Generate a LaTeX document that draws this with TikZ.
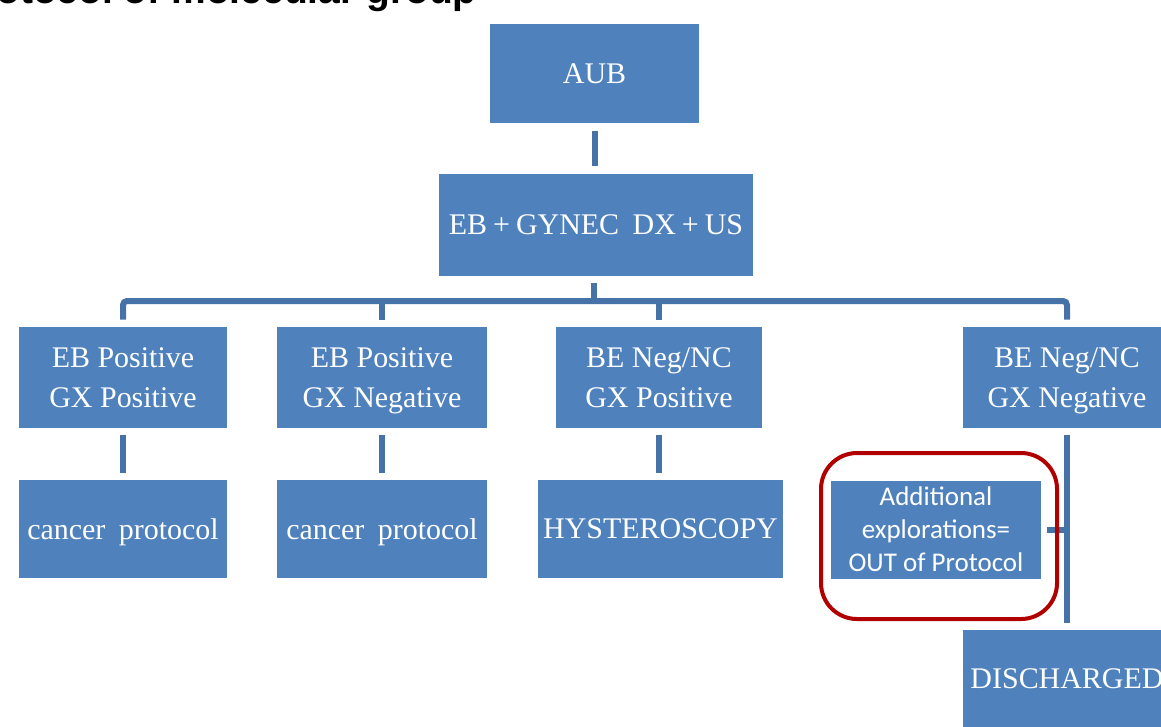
\documentclass[tikz,border=0pt]{standalone}
\usepackage{fontspec}
\setmainfont{Liberation Serif}
\newfontfamily\calibrifont{Carlito}
\newfontfamily\headfont{Liberation Sans}
\usetikzlibrary{positioning}
\definecolor{boxblue}{RGB}{79,129,189}
\definecolor{linkblue}{RGB}{69,114,167}
\definecolor{ringred}{RGB}{176,0,0}
\tikzset{
    block/.style={
        fill=boxblue,
        text=white,
        inner sep=0pt,
        align=center,
        text depth=0pt,
        minimum width=5.2cm,
        minimum height=2.525cm,
        font=\fontsize{21.3}{28.9}\selectfont
    },
    link/.style={
        draw=linkblue,
        line width=0.15cm
    },
    ring/.style={
        draw=ringred,
        line width=0.1cm,
        rounded corners=0.9cm
    }
}

\begin{document}
\begin{tikzpicture}[x=0.025cm, y=-0.025cm]
    \useasboundingbox (0, 0) rectangle (1161, 726);
    \clip (0, 0) rectangle (1161, 726);
    % Title:
    \node [anchor=base east, inner sep=0pt, font=\headfont\bfseries\fontsize{27.7}{30}\selectfont] (title) at (477, 3) {otocol of molecular group};
    % Top:
    \node [block, minimum width=5.225cm, minimum height=2.475cm] (aub) at (594.5, 73.5) {AUB};
    \node [block, minimum width=7.85cm, minimum height=2.55cm] (exam) at (596, 225) {EB\hspace{0.2em}+\hspace{0.2em}GYNEC\hspace{0.45em}DX\hspace{0.2em}+\hspace{0.2em}US};
    \draw [link, shorten <=0.2cm, shorten >=0.2cm] (aub.south) -- (aub.south |- exam.north);
    % Results:
    \begin{scope}
        \node [block] (ebpos) at (123, 377.5) {EB Positive\\GX Positive};
        \node [block, minimum width=5.25cm] (ebneg) at (382, 377.5) {EB Positive\\GX Negative};
        \node [block, minimum width=5.15cm] (nepos) at (659, 377.5) {BE Neg/NC\\GX Positive};
        \node [block] (neneg) at (1067, 377.5) {BE Neg/NC\\GX Negative};
        \coordinate (bar) at (594, 301);
        \draw [link, shorten <=0.175cm] (bar |- exam.south) -- (bar);
        \draw [link, rounded corners=0.1cm, shorten <=0.175cm, shorten >=0.175cm] (ebpos.north) -- (ebpos.north |- bar) -- (neneg.north |- bar) -- (neneg.north);
        \draw [link, shorten >=0.175cm] (ebneg.north |- bar) -- (ebneg.north);
        \draw [link, shorten >=0.175cm] (nepos.north |- bar) -- (nepos.north);
    \end{scope}
    % Next step:
    \begin{scope}
        \node [block, minimum height=2.45cm] (cancerA) at (123, 529) {cancer\hspace{0.45em}protocol};
        \node [block, minimum width=5.25cm, minimum height=2.45cm] (cancerB) at (382, 529) {cancer\hspace{0.45em}protocol};
        \node [block, minimum width=6.125cm, minimum height=2.45cm] (hyst) at (660.5, 529) {HYSTEROSCOPY};
        \node [block, minimum width=5.25cm, minimum height=2.45cm, font=\calibrifont\fontsize{19.2}{23.5}\selectfont] (extra) at (936, 529.5) {Additional\\explorations=\\OUT of Protocol};
        \node [block, minimum height=2.45cm] (discharged) at (1067, 679) {DISCHARGED};
        \draw [link, shorten <=0.175cm, shorten >=0.175cm] (ebpos) -- (cancerA);
        \draw [link, shorten <=0.175cm, shorten >=0.175cm] (ebneg) -- (cancerB);
        \draw [link, shorten <=0.175cm, shorten >=0.175cm] (nepos.south) -- (nepos.south |- hyst.north);
        \draw [link, shorten <=0.175cm, shorten >=0.175cm] (neneg) -- (discharged);
        \draw [link, shorten <=0.15cm] (extra.east) -- (extra.east -| neneg);
    \end{scope}
    % Highlight:
    \draw [ring] (821, 453) rectangle (1057, 619);
\end{tikzpicture}
\end{document}
